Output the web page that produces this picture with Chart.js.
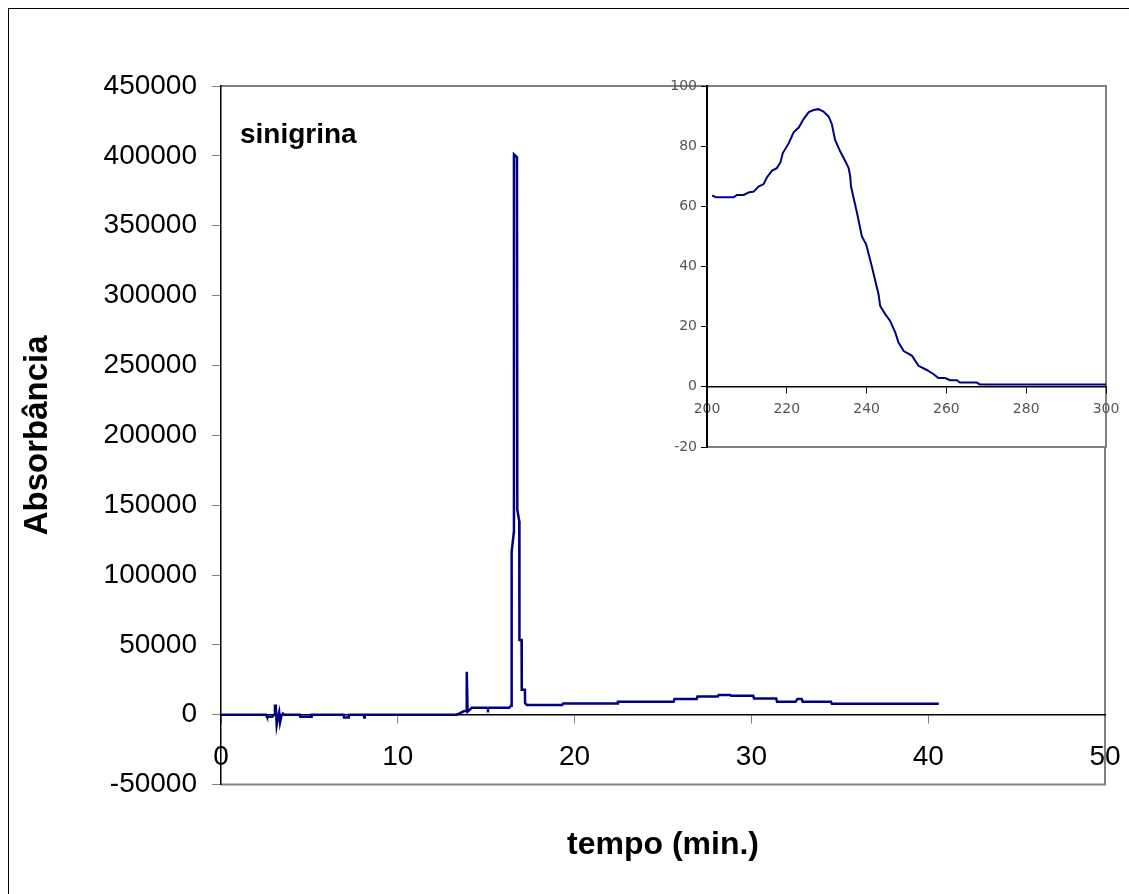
<!DOCTYPE html>
<html lang="pt">
<head>
  <meta charset="UTF-8">
  <title>sinigrina - cromatograma</title>
  <script src="https://cdn.jsdelivr.net/npm/chart.js"></script>
  <style>
    html, body {
      margin: 0;
      padding: 0;
      background: #fff;
      overflow: hidden;
      width: 1129px;
      height: 894px;
    }
    .frame {
      position: absolute;
      left: 8px;
      top: 8px;
      width: 1140px;
      height: 900px;
      border: 1px solid #000;
    }
    #main-chart {
      position: absolute;
      left: 0;
      top: 0;
    }
    #inset-chart {
      position: absolute;
      left: 650px;
      top: 76px;
    }
  </style>
</head>
<body>
  <div class="frame"></div>
  <canvas id="main-chart" width="1129" height="894"></canvas>
  <canvas id="inset-chart" width="470" height="390"></canvas>

  <script>
    // chromatogram: time (min) vs absorbance
    const times = [0, 2.55, 2.6, 2.9, 3.0, 3.05, 3.1, 3.15, 3.22, 3.29, 3.34, 3.43, 3.5, 3.56,
      4.45, 4.48, 5.1, 5.13, 6.93, 6.96, 7.2, 7.23, 8.08, 8.1, 8.13,
      13.3, 13.5, 13.75, 13.88, 13.9, 13.95, 14.08, 14.18, 15.05, 15.1, 15.15, 16.3, 16.4, 16.43,
      16.44, 16.56, 16.57, 16.74, 16.76, 16.87, 16.88, 17.0, 17.01, 17.19, 17.2, 17.3,
      19.3, 19.35, 22.4, 22.45, 25.6, 25.65, 26.9, 26.95, 28.1, 28.15, 28.8, 28.85,
      30.1, 30.15, 31.4, 31.45, 32.5, 32.6, 32.85, 32.9, 34.5, 34.55, 40.6];
    const absorbance = [0, 0, -1400, -1400, 0, 6400, 6400, -7200, -2000, 1700, -5500, 0, 900, 0,
      0, -1400, -1400, 0, 0, -1900, -1900, 0, 0, -1900, 0,
      0, 1000, 2600, 2600, 30800, 2200, 3600, 5000, 5000, 4000, 5000, 5000, 6400, 6400,
      116600, 130400, 401000, 399000, 146800, 138500, 53500, 53500, 17900, 17900, 8300, 7000,
      7000, 8100, 8100, 9300, 9300, 11200, 11200, 13100, 13100, 14100, 14100, 13600,
      13600, 11700, 11700, 9300, 9300, 11200, 11200, 9300, 9300, 7900, 7900];

    // inset: UV spectrum, wavelength (nm) vs absorbance
    const wavelengths = [201.3, 202.3, 206.7, 207.5, 209.2, 210.4, 211.7, 212.9, 214.2, 215.0,
      216.3, 217.5, 218.4, 219.0, 220.5, 221.7, 223.0, 224.2, 225.5, 226.7, 227.9, 229.2,
      230.5, 231.3, 232.1, 233.4, 234.7, 235.5, 235.9, 236.1, 237.6, 238.8, 239.9, 241.3,
      243.0, 243.4, 244.7, 245.9, 247.2, 248.0, 249.3, 251.4, 253.0, 255.1, 256.8, 258.0,
      259.7, 260.9, 262.6, 263.4, 267.6, 268.4, 300.5];
    const spectrum = [63.6, 63.0, 63.0, 63.8, 63.8, 64.6, 64.9, 66.6, 67.4, 69.6,
      71.9, 72.7, 74.6, 77.7, 81.0, 84.6, 86.2, 89.0, 91.3, 92.0, 92.3, 91.5,
      89.8, 87.3, 82.1, 78.2, 74.9, 72.7, 69.9, 66.6, 57.8, 50.1, 47.3, 40.1,
      30.7, 26.9, 24.1, 21.9, 18.0, 14.7, 11.9, 10.3, 7.0, 5.6, 4.2, 2.9,
      2.9, 2.2, 2.2, 1.4, 1.4, 0.8, 0.8];

    const lineColor = '#000080';
    const frameGray = '#808080';

    // grey frame on top/right/bottom of the plot area, axis line stays black on the left
    const plotFrame = {
      id: 'plotFrame',
      beforeDraw(chart) {
        const { ctx, chartArea: a } = chart;
        ctx.save();
        ctx.fillStyle = '#fff';
        ctx.fillRect(a.left, a.top, a.right - a.left, a.bottom - a.top);
        ctx.strokeStyle = frameGray;
        ctx.lineWidth = 2;
        ctx.beginPath();
        ctx.moveTo(a.left, a.top);
        ctx.lineTo(a.right, a.top);
        ctx.lineTo(a.right, a.bottom);
        ctx.lineTo(a.left, a.bottom);
        ctx.stroke();
        ctx.restore();
      }
    };

    const sampleLabel = {
      id: 'sampleLabel',
      afterDraw(chart) {
        const { ctx, chartArea: a } = chart;
        ctx.save();
        ctx.font = 'bold 28px "Liberation Sans", Arial, sans-serif';
        ctx.fillStyle = '#000';
        ctx.textBaseline = 'alphabetic';
        ctx.fillText('sinigrina', a.left + 19, a.top + 57);
        ctx.restore();
      }
    };

    // keep the plot box where the layout padding puts it
    function fixX(scale) {
      scale.height = 0;
      scale.paddingLeft = 0;
      scale.paddingRight = 0;
    }

    const mainFont = '"Liberation Sans", Arial, sans-serif';

    new Chart(document.getElementById('main-chart'), {
      type: 'line',
      data: {
        datasets: [{
          data: times.map((t, i) => ({ x: t, y: absorbance[i] })),
          borderColor: lineColor,
          borderWidth: 2.5,
          pointRadius: 0,
          tension: 0,
          fill: false
        }]
      },
      options: {
        responsive: false,
        animation: false,
        layout: { padding: { left: 0, top: 86, right: 24, bottom: 22 } },
        plugins: {
          legend: { display: false },
          tooltip: { enabled: false },
          title: {
            display: true,
            position: 'bottom',
            fullSize: false,
            text: 'tempo (min.)',
            color: '#000',
            font: { family: mainFont, size: 32, weight: 'bold' },
            padding: { top: 41, bottom: 8 }
          }
        },
        scales: {
          x: {
            type: 'linear',
            min: 0,
            max: 50,
            position: { y: 0 },
            afterFit: fixX,
            ticks: {
              stepSize: 10,
              color: '#000',
              padding: 18,
              font: { family: mainFont, size: 28 },
              callback: v => String(v)
            },
            grid: { drawOnChartArea: false, drawTicks: true, tickLength: 8, color: frameGray },
            border: { color: '#000', width: 1.5 }
          },
          y: {
            min: -50000,
            max: 450000,
            position: 'left',
            afterFit(scale) { scale.width = 221; scale.paddingTop = 0; scale.paddingBottom = 0; },
            ticks: {
              stepSize: 50000,
              color: '#000',
              padding: 15,
              font: { family: mainFont, size: 28 },
              callback: v => String(v)
            },
            title: {
              display: true,
              text: 'Absorbância',
              color: '#000',
              font: { family: mainFont, size: 33, weight: 'bold' },
              padding: { top: 18, bottom: 0 }
            },
            grid: { drawOnChartArea: false, drawTicks: true, tickLength: 9, color: frameGray },
            border: { color: '#000', width: 1.5 }
          }
        }
      },
      plugins: [plotFrame, sampleLabel]
    });

    const insetFont = '"DejaVu Sans", Verdana, sans-serif';

    new Chart(document.getElementById('inset-chart'), {
      type: 'line',
      data: {
        datasets: [{
          data: wavelengths.map((w, i) => ({ x: w, y: spectrum[i] })),
          borderColor: lineColor,
          borderWidth: 2,
          pointRadius: 0,
          tension: 0,
          fill: false
        }]
      },
      options: {
        responsive: false,
        animation: false,
        layout: { padding: { left: 0, top: 10, right: 14, bottom: 19 } },
        plugins: { legend: { display: false }, tooltip: { enabled: false } },
        scales: {
          x: {
            type: 'linear',
            min: 200,
            max: 300,
            position: { y: 0 },
            afterFit: fixX,
            ticks: {
              stepSize: 20,
              color: '#555',
              padding: 8,
              font: { family: insetFont, size: 14 }
            },
            grid: { drawOnChartArea: false, drawTicks: true, tickLength: 6, color: '#000' },
            border: { color: '#000', width: 1.5 }
          },
          y: {
            min: -20,
            max: 100,
            position: 'left',
            afterFit(scale) { scale.width = 57; scale.paddingTop = 0; scale.paddingBottom = 0; },
            ticks: {
              stepSize: 20,
              color: '#555',
              padding: 4,
              font: { family: insetFont, size: 14 }
            },
            grid: { drawOnChartArea: false, drawTicks: true, tickLength: 6, color: '#000' },
            border: { color: '#000', width: 2 }
          }
        }
      },
      plugins: [plotFrame]
    });
  </script>
</body>
</html>
